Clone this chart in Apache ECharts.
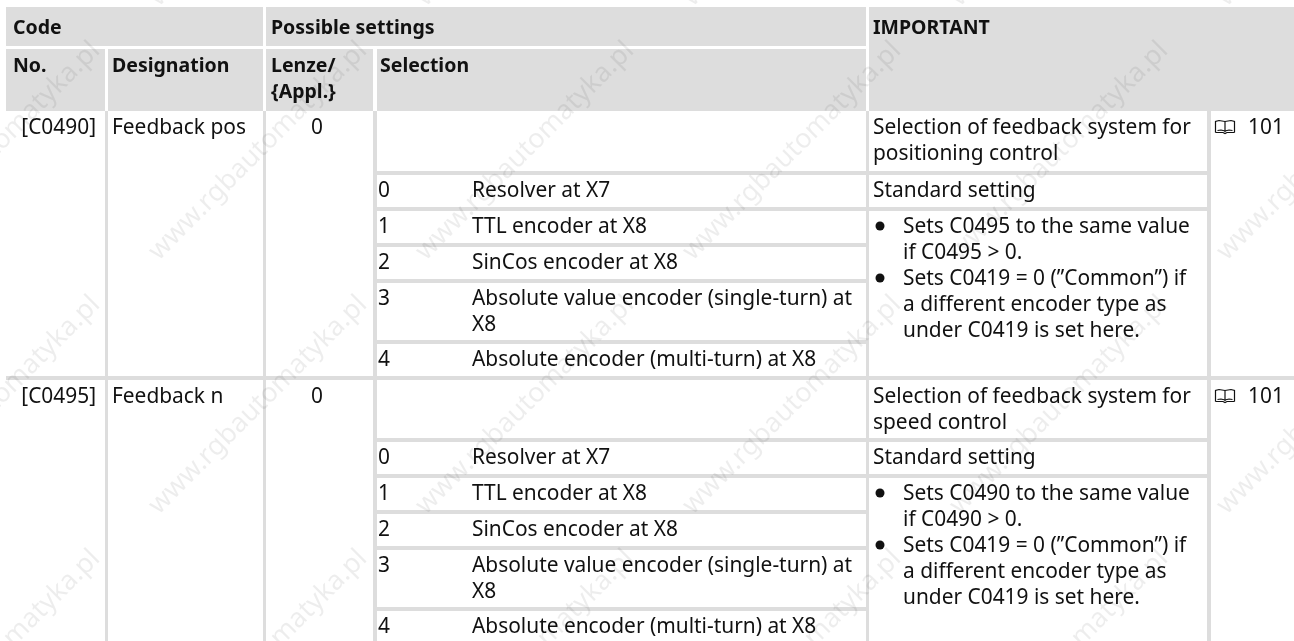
<!DOCTYPE html>
<html>
<head>
<meta charset="utf-8">
<title>Feedback code table</title>
<style>
  html, body { margin: 0; padding: 0; background: #fff; }
  #chartWrap { width: 1294px; height: 641px; }
</style>
<script src="https://cdn.jsdelivr.net/npm/echarts@6/dist/echarts.min.js"></script>
</head>
<body>
<div id="chartWrap"></div>
<script>
// table contents
var headTop = ['Code', 'Possible settings', 'IMPORTANT'];
var headSub = ['No.', 'Designation', 'Lenze/', '{Appl.}', 'Selection'];
var codes = ['[C0490]', '[C0495]'];
var designations = ['Feedback pos', 'Feedback n'];
var lenzeValues = ['0', '0'];
var selectionNos = ['0', '1', '2', '3', '4'];
var selectionTexts = ['Resolver at X7', 'TTL encoder at X8', 'SinCos encoder at X8',
  'Absolute value encoder (single-turn) at', 'X8', 'Absolute encoder (multi-turn) at X8'];
var importantTop = [
  ['Selection of feedback system for', 'positioning control'],
  ['Selection of feedback system for', 'speed control']
];
var standardText = 'Standard setting';
var notes = [
  ['Sets C0495 to the same value', 'if C0495 > 0.', 'Sets C0419 = 0 (\u201DCommon\u201D) if', 'a different encoder type as', 'under C0419 is set here.'],
  ['Sets C0490 to the same value', 'if C0490 > 0.', 'Sets C0419 = 0 (\u201DCommon\u201D) if', 'a different encoder type as', 'under C0419 is set here.']
];
var pageRefs = ['101', '101'];
var watermark = 'www.rgbautomatyka.pl';

// layout: rule and text positions, in page pixels
var FONT = '"Noto Sans"';
var SIZE = 20.9;
var BOLD_SIZE = 19.5;
var GREY = '#dddddd';
var INK = '#111111';
var blockTop = [111, 380];
var rowRules = [[171, 207, 243, 279, 340], [438, 474, 510, 546, 607]];
var rowBase = [[134, 197, 233, 269, 305, 331, 366], [403, 464, 500, 536, 572, 598, 633]];
var noteBase = [[233, 259, 285, 311, 337], [500, 526, 552, 578, 604]];
var markX = [-9, 258, 525, 792, 1059, 1326];
var markY = [-103, 151, 405, 659];

var blocks = [
  // header
  [6, 7, 263, 46], [266, 7, 866, 46], [869, 7, 1294, 111],
  [6, 49, 105, 111], [108, 49, 263, 111], [266, 49, 373, 111], [377, 49, 866, 111],
  // column rules
  [105, 111, 108, 641], [263, 111, 266, 641], [373, 111, 377, 641], [866, 111, 869, 641], [1207, 111, 1211, 641],
  // full width rule between the two codes
  [6, 376, 1294, 380]
];
rowRules.forEach(function(list) {
  list.forEach(function(y, i) {
    blocks.push([377, y, i < 2 ? 1207 : 866, y + 4]);
  });
});

var texts = [];
function addText(text, x, y, align, bold) {
  texts.push({ text: text, x: x, y: y, align: align || 'left', bold: !!bold });
}
addText(headTop[0], 13, 33, 'left', true);
addText(headTop[1], 271, 33, 'left', true);
addText(headTop[2], 873, 33, 'left', true);
addText(headSub[0], 13, 71, 'left', true);
addText(headSub[1], 112, 71, 'left', true);
addText(headSub[2], 271, 71, 'left', true);
addText(headSub[3], 271, 97, 'left', true);
addText(headSub[4], 380, 71, 'left', true);

var bullets = [];
codes.forEach(function(code, b) {
  var base = rowBase[b];
  addText(code, 96, base[0], 'right');
  addText(designations[b], 112, base[0]);
  addText(lenzeValues[b], 317, base[0], 'center');
  addText(importantTop[b][0], 873, base[0]);
  addText(importantTop[b][1], 873, base[0] + 26);
  addText(pageRefs[b], 1248, base[0]);
  addText(standardText, 873, base[1]);
  addText(selectionNos[0], 378, base[1]);
  addText(selectionNos[1], 378, base[2]);
  addText(selectionNos[2], 378, base[3]);
  addText(selectionNos[3], 378, base[4]);
  addText(selectionNos[4], 378, base[6]);
  addText(selectionTexts[0], 472, base[1]);
  addText(selectionTexts[1], 472, base[2]);
  addText(selectionTexts[2], 472, base[3]);
  addText(selectionTexts[3], 472, base[4]);
  addText(selectionTexts[4], 472, base[5]);
  addText(selectionTexts[5], 472, base[6]);
  notes[b].forEach(function(line, i) {
    addText(line, 903, noteBase[b][i]);
  });
  bullets.push([880, noteBase[b][0] - 7], [880, noteBase[b][2] - 7]);
});

var marks = [];
markY.forEach(function(y) {
  markX.forEach(function(x) {
    marks.push([x, y]);
  });
});

var myChart = echarts.init(document.getElementById('chartWrap'));
myChart.setOption({
  animation: false,
  backgroundColor: '#ffffff',
  tooltip: { show: false },
  grid: { left: 0, right: 0, top: 0, bottom: 0 },
  xAxis: { type: 'value', min: 0, max: 1294, show: false },
  yAxis: { type: 'value', min: 0, max: 641, inverse: true, show: false },
  series: [
    {
      type: 'custom',
      silent: true,
      clip: false,
      data: blocks,
      renderItem: function(params, api) {
        var a = api.coord([api.value(0), api.value(1)]);
        var b = api.coord([api.value(2), api.value(3)]);
        return {
          type: 'rect',
          shape: { x: a[0], y: a[1], width: b[0] - a[0], height: b[1] - a[1] },
          style: { fill: GREY }
        };
      }
    },
    {
      type: 'custom',
      silent: true,
      clip: false,
      z: 3,
      data: texts.map(function(t) { return [t.x, t.y]; }),
      renderItem: function(params, api) {
        var t = texts[params.dataIndex];
        var p = api.coord([api.value(0), api.value(1)]);
        var size = t.bold ? BOLD_SIZE : SIZE;
        return {
          type: 'text',
          x: p[0],
          y: p[1] - Math.round(size * 0.36) + 2,
          style: {
            text: t.text,
            fill: INK,
            font: (t.bold ? 'bold ' : '') + size + 'px ' + FONT,
            textAlign: t.align,
            textVerticalAlign: 'middle'
          }
        };
      }
    },
    {
      type: 'custom',
      silent: true,
      clip: false,
      z: 3,
      data: bullets,
      renderItem: function(params, api) {
        var p = api.coord([api.value(0), api.value(1)]);
        return {
          type: 'circle',
          shape: { cx: p[0], cy: p[1], r: 4.5 },
          style: { fill: INK }
        };
      }
    },
    {
      // book symbol next to the page reference
      type: 'custom',
      silent: true,
      clip: false,
      z: 3,
      data: [[1215, blockTop[0] + 9], [1215, blockTop[1] + 9]],
      renderItem: function(params, api) {
        var p = api.coord([api.value(0), api.value(1)]);
        var line = { stroke: INK, lineWidth: 1.2, fill: 'none' };
        return {
          type: 'group',
          x: p[0],
          y: p[1],
          children: [
            { type: 'polyline', shape: { points: [[0.5, 12.5], [0.5, 1.5], [4, 0.5], [10, 1.5], [16, 0.5], [19.5, 1.5], [19.5, 12.5]] }, style: line },
            { type: 'line', shape: { x1: 10, y1: 1.5, x2: 10, y2: 12 }, style: line },
            { type: 'polyline', shape: { points: [[0.5, 12.5], [8, 12.5], [10, 13.5], [12, 12.5], [19.5, 12.5]] }, style: line },
            { type: 'polyline', shape: { points: [[2.5, 10.5], [6, 10], [10, 11], [14, 10], [17.5, 10.5]] }, style: line }
          ]
        };
      }
    },
    {
      type: 'custom',
      silent: true,
      clip: false,
      z: 4,
      data: marks,
      renderItem: function(params, api) {
        var p = api.coord([api.value(0), api.value(1)]);
        return {
          type: 'text',
          x: p[0],
          y: p[1],
          rotation: Math.PI / 4,
          style: {
            text: watermark,
            fill: 'rgba(0,0,0,0.07)',
            font: '27px ' + FONT,
            textAlign: 'center',
            textVerticalAlign: 'middle'
          }
        };
      }
    }
  ]
});
</script>
</body>
</html>
